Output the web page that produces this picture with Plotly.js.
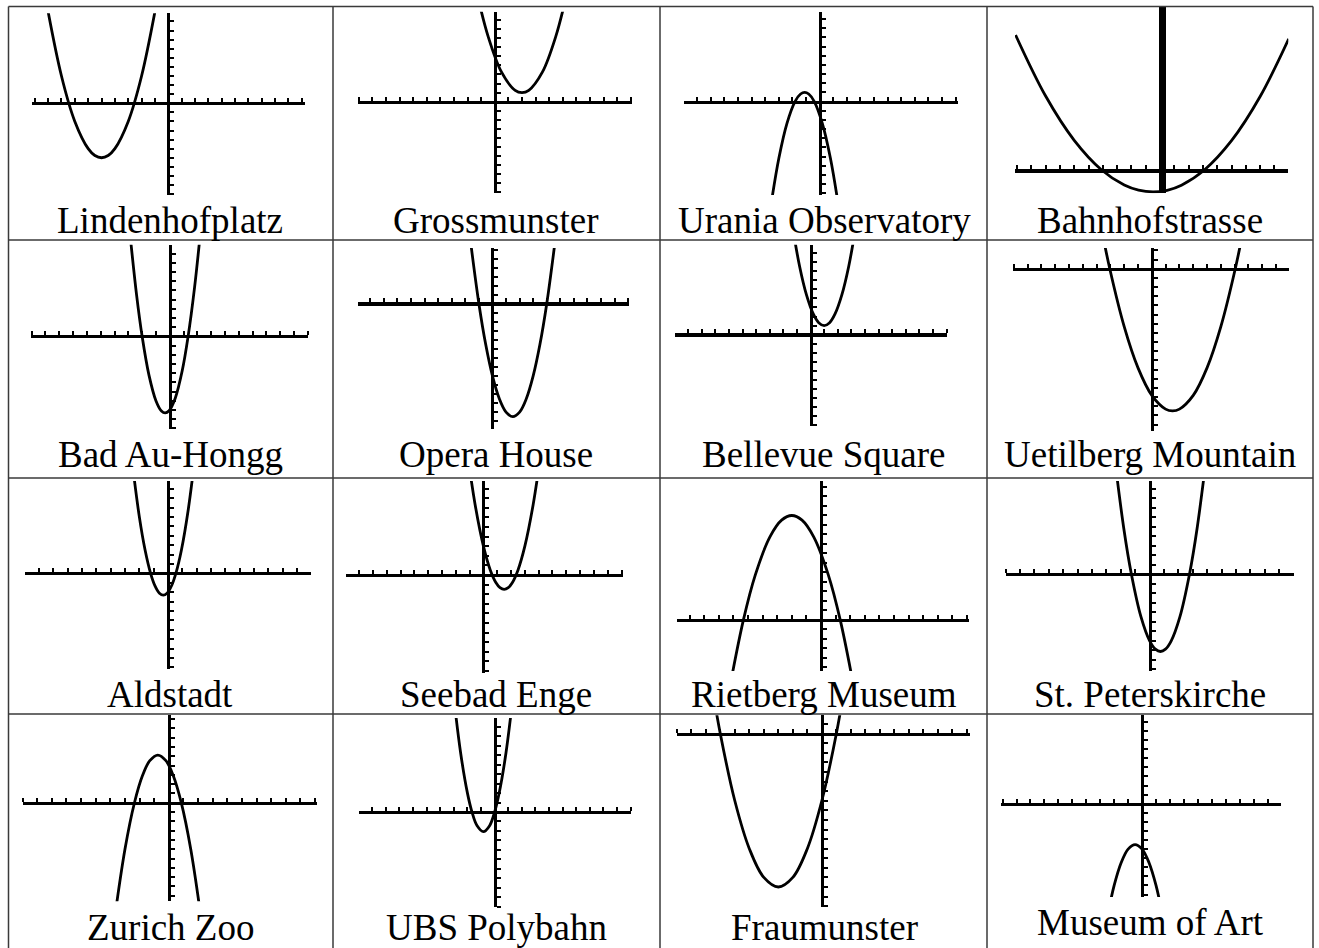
<!DOCTYPE html>
<html>
<head>
<meta charset="utf-8">
<script src="https://cdn.plot.ly/plotly-3.0.1.min.js"></script>
<style>
  html, body { margin: 0; padding: 0; background: #fff; }
  #chart { width: 1319px; height: 948px; }
</style>
</head>
<body>
<div id="chart"></div>
<script>
// One calculator screen per place, read left to right, top to bottom.
const places = [
  "Lindenhofplatz", "Grossmunster", "Urania Observatory", "Bahnhofstrasse",
  "Bad Au-Hongg", "Opera House", "Bellevue Square", "Uetilberg Mountain",
  "Aldstadt", "Seebad Enge", "Rietberg Museum", "St. Peterskirche",
  "Zurich Zoo", "UBS Polybahn", "Fraumunster", "Museum of Art",
];

// Graph windows (calculator units)
const xMin = [-10.23, -10.05, -9.98, -10.14, -10.05, -9.91, -9.99, -10.05, -9.99, -9.93, -9.88, -10.01, -10, -9.98, -10, -10.09];
const xMax = [10.24, 10.07, 10.2, 8.97, 10.01, 10.07, 10.04, 9.96, 9.95, 10.1, 10.14, 9.99, 10.14, 10.04, 10.23, 9.98];
const yMin = [-10.1, -10.09, -10.2, -11.65, -10.04, -13.84, -10.09, -17.73, -10.18, -10.24, -5.37, -10.18, -10.6, -10.05, -18.09, -10.27];
const yMax = [9.9, 9.91, 9.8, 81.65, 9.96, 6.17, 9.91, 2.26, 9.82, 9.79, 14.63, 9.82, 9.4, 9.95, 1.92, 9.73];

// Points read along each parabola
const curveX = [
  [-9.2, -8, -7, -6, -5.5, -5, -4.5, -4, -3, -2, -0.8],
  [-1.3, -0.5, 0.5, 1.5, 2, 2.5, 3.5, 4.5, 5.3],
  [-3.6, -3, -2.4, -1.8, -1.4, -1.1, -0.8, -0.4, 0.2, 0.8, 1.4],
  [-10.1, -8, -6, -4.08, -2.5, -1.5, -0.49, 0.5, 1.5, 3.1, 5, 7, 9],
  [-2.9, -2.4, -2, -1.5, -1, -0.6, -0.33, -0.05, 0.4, 0.9, 1.33, 1.8, 2.25],
  [-1.6, -1, -0.5, 0, 0.5, 1, 1.5, 2, 2.5, 3, 3.5, 4, 4.6],
  [-1.4, -0.8, -0.3, 0.2, 0.6, 1, 1.4, 1.8, 2.3, 2.8, 3.4],
  [-3.6, -3.05, -2, -1, 0, 1, 1.5, 2, 3, 4, 5, 6.05, 6.6],
  [-2.6, -2, -1.6, -1.22, -0.9, -0.6, -0.33, -0.07, 0.27, 0.55, 0.93, 1.4, 1.93],
  [-1.2, -0.6, 0, 0.5, 0.9, 1.2, 1.5, 1.8, 2.1, 2.5, 3, 3.6, 4.2],
  [-6.3, -5.32, -4.5, -3.5, -2.7, -2, -1.3, -0.5, 0.5, 1.32, 2.3],
  [-2.6, -1.8, -1.27, -0.6, 0, 0.4, 0.75, 1.1, 1.5, 2.1, 2.77, 3.3, 4.1],
  [-3.8, -3, -2.35, -1.8, -1.3, -0.75, -0.2, 0.3, 0.85, 1.5, 2.3],
  [-3.1, -2.5, -2, -1.67, -1.3, -0.83, -0.37, 0, 0.33, 0.83, 1.43],
  [-7.6, -7, -6, -5, -4, -3, -2, -1, 0, 1, 1.6],
  [-2.5, -2, -1.5, -1, -0.5, 0, 0.5, 1, 1.5],
];
const curveY = [
  [11.64, 3, -2, -5, -5.75, -6, -5.75, -5, -2, 3, 11.64],
  [11.89, 7.25, 3.25, 1.25, 1, 1.25, 3.25, 7.25, 11.89],
  [-11.5, -6.22, -2.38, 0.02, 0.82, 1, 0.82, 0.02, -2.38, -6.22, -11.5],
  [67.5, 36.97, 14.84, 0, -7.54, -10.1, -10.97, -10.14, -7.6, 0, 14.65, 36.72, 65.58],
  [11.43, 4.48, 0, -4.25, -7, -8.12, -8.33, -8.09, -6.72, -3.77, -0.03, 5.32, 11.69],
  [6.72, 0, -4.5, -8, -10.5, -12, -12.5, -12, -10.5, -8, -4.5, 0, 6.72],
  [12.52, 7.48, 4.38, 2.28, 1.32, 1, 1.32, 2.28, 4.38, 7.48, 12.52],
  [4.01, 0.03, -6.31, -10.81, -13.81, -15.31, -15.5, -15.31, -13.81, -10.81, -6.31, 0.03, 4.01],
  [13.08, 6, 2.48, 0.03, -1.37, -2.12, -2.33, -2.13, -1.24, 0.01, 2.45, 6.68, 13.03],
  [13.08, 7.32, 3, 0.5, -0.78, -1.32, -1.5, -1.32, -0.78, 0.5, 3, 7.32, 13.08],
  [-7.49, -0.02, 4.75, 8.75, 10.51, 11, 10.51, 8.75, 4.75, -0.02, -7.49],
  [14.32, 4.88, 0.04, -4.48, -7, -7.88, -8.125, -7.88, -7, -4.48, 0.04, 4.88, 14.32],
  [-13.48, -5, 0, 2.92, 4.52, 5.125, 4.52, 2.92, 0.01, -5, -13.48],
  [13.33, 6.25, 2, 0.02, -1.43, -2.08, -1.44, 0, 1.98, 6.22, 13.28],
  [5.16, 0, -7, -12, -15, -16, -15, -12, -7, 0, 5.16],
  [-12.5, -9, -6.5, -5, -4.5, -5, -6.5, -9, -12.5],
];

// --- layout (page pixels) ---
const W = 1319, H = 948;
// screen box: left, top, right, bottom
const screens = [
  [31.7, 13.3, 305, 195], [358.1, 11.7, 631.7, 193.3], [683.9, 11.7, 958.3, 195], [1015, 6.7, 1288.3, 193.3],
  [31, 244.7, 307.9, 428.7], [358, 248, 629.1, 428.7], [674.7, 244.7, 947.1, 426.3], [1013.1, 248, 1289.3, 431.3],
  [24.7, 481, 310.8, 669], [346.3, 481, 622.9, 673.3], [676.8, 481, 969, 671], [1005.5, 481, 1293.5, 671],
  [22.6, 715.3, 317.1, 901.3], [358.9, 718, 631.2, 907], [676.8, 715.3, 970.2, 907], [1001.3, 715.3, 1281.3, 897],
];
const xAxisWeight = [3, 3, 3, 3.5, 3, 4, 4, 3, 3, 3, 3, 3, 3, 3, 3, 3];
const labelX = [170, 496, 824, 1150];
const labelY = [220, 220, 220, 220, 455, 455, 455, 455, 694, 694, 694, 694, 927, 927, 927, 922];
const colEdges = [8.5, 333, 660, 987, 1313];
const rowEdges = [6.5, 240, 478, 714];

const px = (v) => v / W;
const py = (v) => 1 - v / H;

const axisStyle = {
  showline: true,
  linecolor: "#000",
  ticks: "outside",
  ticklen: 4,
  tickwidth: 2,
  tickcolor: "#000",
  tickmode: "linear",
  tick0: 0,
  dtick: 1,
  showticklabels: false,
  showgrid: false,
  zeroline: false,
  fixedrange: true,
  anchor: "free",
};

const traces = [];
const layout = {
  width: W,
  height: H,
  margin: { l: 0, r: 0, t: 0, b: 0 },
  paper_bgcolor: "#fff",
  plot_bgcolor: "rgba(0,0,0,0)",
  showlegend: false,
  annotations: [],
  shapes: [],
};

places.forEach((name, i) => {
  const [l, t, r, b] = screens[i];
  const suffix = i === 0 ? "" : String(i + 1);
  const xd = [px(l), px(r)];
  const yd = [py(b), py(t)];
  // axes cross at the origin of each window
  const yZero = yd[0] + ((0 - yMin[i]) / (yMax[i] - yMin[i])) * (yd[1] - yd[0]);
  const xZero = xd[0] + ((0 - xMin[i]) / (xMax[i] - xMin[i])) * (xd[1] - xd[0]);

  layout["xaxis" + suffix] = {
    ...axisStyle,
    domain: xd,
    range: [xMin[i], xMax[i]],
    position: yZero,
    side: "top",
    linewidth: xAxisWeight[i],
  };
  layout["yaxis" + suffix] = {
    ...axisStyle,
    domain: yd,
    range: [yMin[i], yMax[i]],
    position: xZero,
    side: "right",
    linewidth: 3,
  };

  traces.push({
    type: "scatter",
    mode: "lines",
    x: curveX[i],
    y: curveY[i],
    xaxis: "x" + suffix,
    yaxis: "y" + suffix,
    line: { color: "#000", width: 2.8, shape: "spline", smoothing: 1 },
    hoverinfo: "skip",
  });

  layout.annotations.push({
    text: name,
    xref: "paper",
    yref: "paper",
    x: px(labelX[i % 4]),
    y: py(labelY[i]),
    xanchor: "center",
    yanchor: "middle",
    showarrow: false,
    font: { family: "Liberation Serif, serif", size: 37, color: "#000" },
  });
});

// table rules
const rule = { color: "#3a3a3a", width: 1.5 };
for (const cx of colEdges) {
  layout.shapes.push({ type: "line", xref: "paper", yref: "paper", x0: px(cx), x1: px(cx), y0: py(rowEdges[0]), y1: 0, line: rule });
}
for (const ry of rowEdges) {
  layout.shapes.push({ type: "line", xref: "paper", yref: "paper", x0: px(colEdges[0]), x1: px(colEdges[4]), y0: py(ry), y1: py(ry), line: rule });
}

Plotly.newPlot("chart", traces, layout, { displayModeBar: false, staticPlot: true });
</script>
</body>
</html>
